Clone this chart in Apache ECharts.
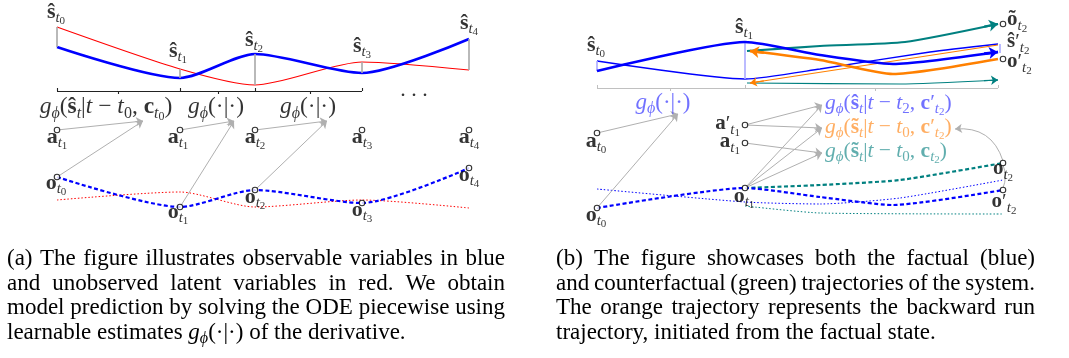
<!DOCTYPE html>
<html><head><meta charset="utf-8">
<script src="https://cdn.jsdelivr.net/npm/echarts@6/dist/echarts.min.js"></script>
<style>html,body{margin:0;padding:0;background:#fff}#c{width:1069px;height:358px}</style>
</head><body><div id="c"></div>
<script>
// ================= DATA (diagram coordinates) =================
// Panel (a) – latent states (top) and observations (bottom)
const latentBlueA = [[57,47],[180,78],[255,54],[362,73],[469,39]];
const latentRedA  = [[57,27],[180,69],[255,85],[362,62],[469,70]];
const obsBlueA    = [[57,177],[180,207],[255,190],[362,203],[469,168]];
const obsRedA     = [[57,200],[180,192],[255,207],[362,200],[469,208]];
const actionNodesA = [[57,130],[180,130],[255,130],[362,130],[469,130]];
const gTargetsA   = [[143,121],[234,121],[327,121]];
const braceAY = 91;
const braceAEnds = [57,180,255,362];
const braceAMids = [118,218,310];

// Panel (b)
const factualLatent     = [[597,71],[745,42],[820,55],[893,64],[998,52]];
const factualLatentThin = [[597,61],[745,79],[820,69],[930,52],[998,44]];
const cfLatentThick     = [[747,51],[820,46],[905,42],[998,24]];
const backThick         = [[998,59],[893,74],[820,60],[750,51]];
const backThin          = [[998,45],[750,83]];
const cfLatentThin      = [[747,83],[900,84],[998,80]];
const lightBlueBars     = [[[597,61],[597,71]],[[745,42],[745,79]],[[1000,44],[1000,53]]];
const obsFactual        = [[597,208],[745,188],[820,197],[893,205],[1003,190]];
const obsCf             = [[745,188],[820,185],[900,180],[1003,163]];
const obsFactualThin    = [[597,189],[745,202],[820,204],[900,198],[1003,180]];
const obsCfThin         = [[745,206],[820,213],[1003,214]];
const nodesB = [[597,133],[745,125],[745,143],[745,188],[597,208],[1003,24],[1003,59],[1003,163],[1003,190]];
const grayArrowsB = [
  [[597,133],[678,114]],[[597,208],[678,114]],
  [[745,125],[822,105]],[[745,125],[822,128]],[[745,143],[822,153]],
  [[745,188],[822,105]],[[745,188],[822,128]],[[745,188],[822,153]]
];
const braceBY = 88;
const braceBEnds = [597,745,998];
const braceBMids = [670,875];

// Text labels: [x, y, rich text, colour key, align, size]
const GA  = '{i|g}{s|ϕ}{n|(}{b|ŝ}{s|t}{n||}{i|t}{n| − }{i|t}{sd|0}{n|, }{b|c}{s|t}{ss|0}{n|)}';
const GB1 = '{i|g}{s|ϕ}{n|(}{b|ŝ}{s|t}{n||}{i|t}{n| − }{i|t}{sd|2}{n|, }{b|c}{n|′}{s|t}{ss|2}{n|)}';
const GB2 = '{i|g}{s|ϕ}{n|(}{b|s̃}{s|t}{n||}{i|t}{n| − }{i|t}{sd|0}{n|, }{b|c}{n|′}{s|t}{ss|2}{n|)}';
const GB3 = '{i|g}{s|ϕ}{n|(}{b|s̃}{s|t}{n||}{i|t}{n| − }{i|t}{sd|0}{n|, }{b|c}{s|t}{ss|2}{n|)}';
const GDOT = '{i|g}{s|ϕ}{n|(·|·)}';
const labels = [
  [56,12,'{b|ŝ}{s|t}{ss|0}','k','center',22],
  [178,51,'{b|ŝ}{s|t}{ss|1}','k','center',22],
  [254,40,'{b|ŝ}{s|t}{ss|2}','k','center',22],
  [362,46,'{b|ŝ}{s|t}{ss|3}','k','center',22],
  [469,23,'{b|ŝ}{s|t}{ss|4}','k','center',22],
  [106,107,GA,'k','center',23.5],
  [216,107,GDOT,'k','center',23.5],
  [308,107,GDOT,'k','center',23.5],
  [414,90,'{n|. . .}','k','center',22],
  [57,137,'{b|a}{s|t}{ss|1}','k','center',22],
  [178,137,'{b|a}{s|t}{ss|1}','k','center',22],
  [255,137,'{b|a}{s|t}{ss|2}','k','center',22],
  [362,137,'{b|a}{s|t}{ss|3}','k','center',22],
  [469,137,'{b|a}{s|t}{ss|4}','k','center',22],
  [56,183,'{b|o}{s|t}{ss|0}','k','center',22],
  [178,212,'{b|o}{s|t}{ss|1}','k','center',22],
  [255,197,'{b|o}{s|t}{ss|2}','k','center',22],
  [362,210,'{b|o}{s|t}{ss|3}','k','center',22],
  [469,175,'{b|o}{s|t}{ss|4}','k','center',22],
  [596,45,'{b|ŝ}{s|t}{ss|0}','k','center',22],
  [744,27,'{b|ŝ}{s|t}{ss|1}','k','center',22],
  [1007,20,'{b|õ}{s|t}{ss|2}','k','left',21],
  [1007,42,'{b|ŝ}{n|′}{s|t}{ss|2}','k','left',21],
  [1007,62,'{b|o}{n|′}{s|t}{ss|2}','k','left',21],
  [663,103,GDOT,'blue','center',23],
  [596,141,'{b|a}{s|t}{ss|0}','k','center',22],
  [740,124,'{b|a}{n|′}{s|t}{ss|1}','k','right',21],
  [740,142,'{b|a}{s|t}{ss|1}','k','right',21],
  [744,196,'{b|o}{s|t}{ss|1}','k','center',22],
  [596,215,'{b|o}{s|t}{ss|0}','k','center',22],
  [825,103,GB1,'blue','left',21.5],
  [825,127,GB2,'orange','left',21.5],
  [825,151,GB3,'teal','left',21.5],
  [1003,169,'{b|o}{s|t}{ss|2}','k','center',21],
  [1004,202,'{b|o}{n|′}{s|t}{ss|2}','k','center',21]
];

// Captions
const captionA = [
  '(a) The figure illustrates observable variables in blue',
  'and unobserved latent variables in red.  We obtain',
  'model prediction by solving the ODE piecewise using'
];
const captionALast = '{n|learnable estimates }{i|g}{s|ϕ}{n|(·|·) of the derivative.}';
const captionB = [
  '(b) The figure showcases both the factual (blue)',
  'and counterfactual (green) trajectories of the system.',
  'The orange trajectory represents the backward run',
  'trajectory, initiated from the factual state.'
];

// ================= STYLE / BUILD =================
const FONT = "'Liberation Serif','DejaVu Serif',serif";
const COLORS = {k:'#000000', blue:'#4d4dff', orange:'#ff9a3c', teal:'#3a9a9a'};
function mkRich(color, B) {
  const L = 32;
  const t = (o) => Object.assign({fontFamily: FONT, color: color, fill: color}, o);
  const fs1 = Math.round(B * 0.7), lh1 = fs1 + 2, sh1 = 0.27 * B;
  const p1 = L / 2 + sh1 - lh1 / 2;
  const fs2 = Math.round(B * 0.5), lh2 = fs2 + 1, sh2 = 0.42 * B;
  const p2 = L / 2 + sh2 - lh2 / 2;
  return {
    b:  t({fontWeight:'bold', fontSize:B, lineHeight:L}),
    n:  t({fontSize:B, lineHeight:L}),
    i:  t({fontStyle:'italic', fontSize:B, lineHeight:L}),
    s:  t({fontStyle:'italic', fontSize:fs1, lineHeight:lh1, padding:[p1,0,L-lh1-p1,0]}),
    sd: t({fontSize:fs1, lineHeight:lh1, padding:[p1,0,L-lh1-p1,0]}),
    ss: t({fontSize:fs2, lineHeight:lh2, padding:[p2,0,Math.max(0,L-lh2-p2),0]})
  };
}
function lineS(data, color, width, type, smooth, z) {
  return {type:'line', data, smooth: smooth == null ? 0.25 : smooth, symbol:'none', silent:true, z: z||2,
    lineStyle:{color, width, type: type || 'solid', cap:'butt'}};
}
function segS(segs, color, width, arrow, size, z, curve) {
  return {type:'lines', coordinateSystem:'cartesian2d', polyline:false, silent:true, z: z||3,
    symbol: arrow ? ['none','arrow'] : ['none','none'], symbolSize: size || 8,
    lineStyle:{color, width, opacity:1, curveness: curve || 0},
    data: segs.map(c => ({coords:c}))};
}
// curved path + arrow head on its last piece
function arrowPath(path, color, width, size, z) {
  const n = path.length, a = path[n-2], b = path[n-1];
  const dx = b[0]-a[0], dy = b[1]-a[1], len = Math.hypot(dx,dy), k = Math.min(1, 14/len);
  const from = [b[0]-dx*k, b[1]-dy*k];
  return [lineS(path, color, width, 'solid', 0.2, z), segS([[from, b]], color, width, true, size, (z||2)+1)];
}
function braceSegs(y, ends, mids) {
  const s = [[[ends[0],y],[ends[ends.length-1],y]]];
  ends.forEach(x => s.push([[x,y],[x,y-3]]));
  mids.forEach(x => s.push([[x,y],[x,y+3]]));
  return s;
}
const vertA = latentBlueA.map((p,i) => [p, latentRedA[i]]);
const gArrowsA = [];
gTargetsA.forEach((tg,i) => { gArrowsA.push([actionNodesA[i], tg]); gArrowsA.push([obsBlueA[i], tg]); });

const series = [
  lineS(latentRedA, '#ff0000', 1.1),
  lineS(latentBlueA, '#0000ff', 2.6),
  segS(vertA, '#a8a8a8', 1.6, false),
  segS(braceSegs(braceAY, braceAEnds, braceAMids), '#222', 1.1, false),
  lineS(obsRedA, '#ff0000', 1, [1.5,2]),
  lineS(obsBlueA, '#0000ff', 2.2, [4,2.5]),
  segS(gArrowsA, '#b0b0b0', 1, true, 7),
  // panel b
  lineS(factualLatentThin, '#0000ff', 1.3, 'solid', 0.2),
  segS(lightBlueBars, '#aaaaff', 1.6, false),
  ...arrowPath(cfLatentThin, '#008080', 1.2, 7),
  ...arrowPath(backThin, '#ff8000', 1.2, 7),
  ...arrowPath(cfLatentThick, '#008080', 2.2, 9),
  ...arrowPath(backThick, '#ff8000', 2.4, 9),
  ...arrowPath(factualLatent, '#0000ff', 2.6, 9, 4),
  segS(braceSegs(braceBY, braceBEnds, braceBMids), '#c0c0c0', 1, false),
  segS(grayArrowsB, '#b0b0b0', 1, true, 7),
  segS([[[1003,161],[955,129]]], '#b0b0b0', 1, true, 7, 3, -0.4),
  segS([[[1003,165],[1003,188]]], '#b0b0b0', 1, false, 0, 3, 0.2),
  lineS(obsFactualThin, '#0000ff', 1, [1.5,2], 0.2),
  lineS(obsCfThin, '#008080', 1, [1.5,2], 0.2),
  lineS(obsCf, '#008080', 2.2, [4,2.5], 0.2),
  lineS(obsFactual, '#0000ff', 2.2, [4,2.5], 0.2),
  {type:'scatter', silent:true, z:8, symbol:'circle', symbolSize:5.5,
   itemStyle:{color:'#ffffff', borderColor:'#000', borderWidth:1.1},
   data: actionNodesA.concat(obsBlueA, nodesB)},
  {type:'scatter', silent:true, z:9, symbol:'circle', symbolSize:1,
   itemStyle:{color:'rgba(0,0,0,0)'},
   data: labels.map(l => ({value:[l[0], l[1]], label:{show:true, position:'inside', formatter:l[2],
     align:l[4], verticalAlign:'middle', rich: mkRich(COLORS[l[3]], l[5])}}))}
];

// captions, justified
const CAP_SIZE = 23;
const CAP_FONT = CAP_SIZE + "px 'Liberation Serif'";
const ctx = document.createElement('canvas').getContext('2d');
ctx.font = CAP_FONT;
const capY = [259, 283.5, 308, 332.5];
const graphic = [];
function justify(line, x0, x1, y) {
  const words = line.split(/ +/);
  const ws = words.map(w => ctx.measureText(w).width);
  const tot = ws.reduce((a,b) => a + b, 0);
  const gap = (x1 - x0 - tot) / (words.length - 1);
  let x = x0;
  words.forEach((w,i) => {
    graphic.push({type:'text', x:x, y:y, silent:true,
      style:{text:w, font:CAP_FONT, fill:'#000', verticalAlign:'middle', textVerticalAlign:'middle'}});
    x += ws[i] + gap;
  });
}
captionA.forEach((l,i) => justify(l, 7, 505, capY[i]));
graphic.push({type:'text', x:7, y:capY[3], silent:true,
  style:{text:captionALast, rich: mkRich('#000', CAP_SIZE), font:CAP_FONT, fill:'#000', verticalAlign:'middle', textVerticalAlign:'middle'}});
captionB.slice(0,3).forEach((l,i) => justify(l, 556, 1035, capY[i]));
graphic.push({type:'text', x:556, y:capY[3], silent:true,
  style:{text:captionB[3], font:CAP_FONT, fill:'#000', verticalAlign:'middle', textVerticalAlign:'middle'}});

const chart = echarts.init(document.getElementById('c'), null, {renderer:'canvas'});
chart.setOption({
  animation:false,
  backgroundColor:'#ffffff',
  grid:{left:0, right:0, top:0, bottom:0},
  xAxis:{type:'value', min:0, max:1069, show:false},
  yAxis:{type:'value', min:0, max:358, inverse:true, show:false},
  series: series,
  graphic: graphic
});
</script>
</body></html>
